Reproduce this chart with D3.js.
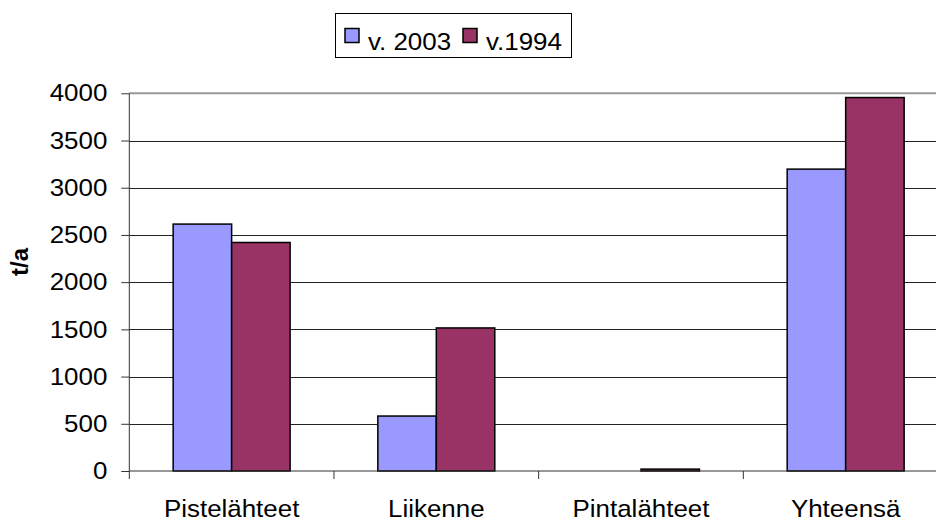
<!DOCTYPE html>
<html><head><meta charset="utf-8">
<script src="https://cdn.jsdelivr.net/npm/d3@7/dist/d3.min.js"></script>
<style>body{margin:0;background:#fff}svg{display:block;font-family:"Liberation Sans",Arial,sans-serif}</style>
</head><body><svg id="c" width="936" height="521"></svg>
<script>
const categories = ["Pistelähteet", "Liikenne", "Pintalähteet", "Yhteensä"];
const seriesNames = ["v. 2003", "v.1994"];
const values2003 = [2615, 582, 0, 3197];
const values1994 = [2420, 1515, 20, 3955];
const yTicks = [0, 500, 1000, 1500, 2000, 2500, 3000, 3500, 4000];
const colors = ["#9999FF", "#993366"];

(function () {
const svg = d3.select("#c");
const FS = 24, SX = 1.08;
const pL = 129.3, pR = 948, pT = 93.3, pB = 471;
const x = d3.scaleBand().domain(categories).range([pL, pR]).paddingInner(0).paddingOuter(0);
const y = d3.scaleLinear().domain([0, 4000]).range([pB, pT]);
const bw = x.bandwidth();
const barW = bw / 3.5;
const series = [values2003, values1994];

// gridlines
svg.append("g").selectAll("line").data(yTicks.filter(d => d > 0 && d < 4000)).join("line")
  .attr("x1", pL).attr("x2", pR).attr("y1", d => Math.round(y(d)) + 0.5).attr("y2", d => Math.round(y(d)) + 0.5)
  .attr("stroke", "#222").attr("stroke-width", 1);
// top border
svg.append("line").attr("x1", pL).attr("x2", pR).attr("y1", y(4000)).attr("y2", y(4000))
  .attr("stroke", "#999").attr("stroke-width", 2);

// bars
series.forEach((vals, si) => {
  svg.append("g").selectAll("rect").data(categories).join("rect")
    .attr("x", c => x(c) + bw / 2 - barW + si * barW)
    .attr("y", (c, i) => y(vals[i]))
    .attr("width", barW)
    .attr("height", (c, i) => y(0) - y(vals[i]))
    .attr("fill", colors[si])
    .attr("stroke", (c, i) => vals[i] > 0 ? "#000" : "none")
    .attr("stroke-width", 1.5);
});

// y axis
const yAxis = svg.append("g").attr("transform", `translate(${pL},0)`)
  .call(d3.axisLeft(y).tickValues(yTicks).tickSize(8).tickPadding(14).tickFormat(d3.format("d")));
yAxis.select(".domain").attr("stroke", "#333").attr("d", `M0,${pT}V${pB}`);
yAxis.selectAll(".tick line").attr("stroke", "#333");
yAxis.selectAll("text").attr("font-size", FS).attr("fill", "#000")
  .attr("font-family", "Liberation Sans, Arial, sans-serif")
  .attr("x", -22 / SX).attr("transform", `scale(${SX},1)`);

// x axis
const xAxis = svg.append("g").attr("transform", `translate(0,${pB})`)
  .call(d3.axisBottom(x).tickSize(0).tickPadding(27));
xAxis.select(".domain").attr("stroke", "#333").attr("d", `M${pL},0H${pR}`);
xAxis.selectAll("text").attr("font-size", FS).attr("fill", "#000")
  .attr("font-family", "Liberation Sans, Arial, sans-serif")
  .attr("y", 46).attr("dy", 0).attr("transform", `scale(${SX},1)`);
svg.append("g").selectAll("line").data(categories.map(c => x(c)).concat([pR])).join("line")
  .attr("x1", d => d).attr("x2", d => d).attr("y1", pB).attr("y2", pB + 8)
  .attr("stroke", "#333");

// y title
svg.append("text").attr("transform", "translate(28,262) rotate(-90)")
  .attr("text-anchor", "middle").attr("font-size", FS).attr("font-weight", "bold").text("t/a");

// legend
const lg = svg.append("g");
lg.append("rect").attr("x", 335.5).attr("y", 13.5).attr("width", 236).attr("height", 44)
  .attr("fill", "#fff").attr("stroke", "#000").attr("stroke-width", 1);
const lx = [345, 463];
seriesNames.forEach((n, i) => {
  lg.append("rect").attr("x", lx[i]).attr("y", 28.5).attr("width", 14).attr("height", 14)
    .attr("fill", colors[i]).attr("stroke", "#000").attr("stroke-width", 1.5);
  lg.append("text").attr("transform", `translate(${lx[i] + 23},50) scale(${SX},1)`)
    .attr("font-size", FS).text(n);
});
})();
</script></body></html>
